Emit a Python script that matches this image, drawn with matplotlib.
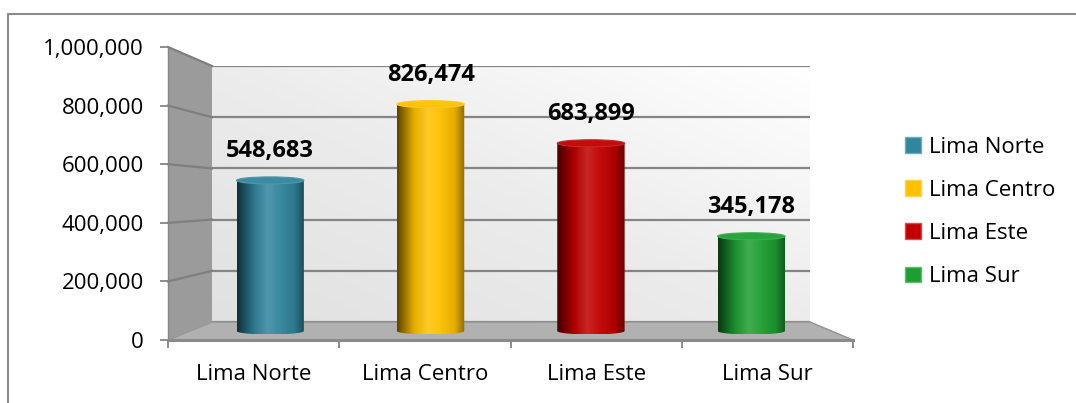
import matplotlib
matplotlib.use('Agg')

from matplotlib import pyplot as plt
from matplotlib.colors import LinearSegmentedColormap, to_rgb
from matplotlib.patches import Polygon, PathPatch, Ellipse, Patch
from matplotlib.lines import Line2D
from matplotlib.path import Path
from matplotlib.ticker import FuncFormatter
import numpy as np

plt.rcParams['font.family'] = 'Open Sans'

# Population by zone
zones = ["Lima Norte", "Lima Centro", "Lima Este", "Lima Sur"]
population = [548683, 826474, 683899, 345178]
zone_colors = ["#31859c", "#ffc000", "#c00000", "#1e9e32"]
y_ticks = [0, 200000, 400000, 600000, 800000, 1000000]

# Canvas size in pixels
W, H = 1076, 403
grey_line = "#858585"


def box(left, top, right, bottom):
    """ Pixel box (top-left origin) -> figure fraction rectangle """
    return [left / W, 1 - bottom / H, (right - left) / W, (bottom - top) / H]


def shade(c, f):
    """ f < 0 darkens towards black, f > 0 lightens towards white """
    c = np.array(to_rgb(c))
    if f < 0:
        return tuple(c * (1 + f))
    return tuple(c + (1 - c) * f)


fig = plt.figure(figsize=(W / 100, H / 100), dpi=100)
to_fig = fig.transFigure.inverted()

# Back wall, mid plane (cylinders) and front plane (axis ticks)
ax_back = fig.add_axes(box(212, 66, 810, 322), zorder=0)
ax_mid = fig.add_axes(box(190, 56.5, 831.5, 331), zorder=2)
ax_front = fig.add_axes(box(168, 47, 853, 340), zorder=3)

# Back wall: soft diagonal gradient plus gridlines
xx, yy = np.meshgrid(np.linspace(0, 1, 64), np.linspace(0, 1, 64))
wall_cmap = LinearSegmentedColormap.from_list("wall", ["#e1e1e1", "#ececec", "#ffffff"])
ax_back.imshow((xx + yy) / 2, extent=(0, 1, 0, 1), origin='lower', cmap=wall_cmap,
               aspect='auto', transform=ax_back.transAxes, zorder=-1)
ax_back.set_xlim(0, 1)
ax_back.set_ylim(0, max(y_ticks))
ax_back.set_yticks(y_ticks)
ax_back.set_xticks([])
ax_back.grid(axis='y', color=grey_line, linewidth=1.6)
ax_back.tick_params(length=0, labelleft=False)
for s in ax_back.spines.values():
    s.set_visible(False)

# Front plane axis
ax_front.set_xlim(0, len(zones))
ax_front.set_ylim(0, max(y_ticks))
ax_front.patch.set_visible(False)
for s in ['top', 'right']:
    ax_front.spines[s].set_visible(False)
ax_front.spines['left'].set_color(grey_line)
ax_front.spines['left'].set_linewidth(1.0)
ax_front.spines['bottom'].set_color("#8a8a8a")
ax_front.spines['bottom'].set_linewidth(2.2)
ax_front.set_yticks(y_ticks)
ax_front.yaxis.set_major_formatter(FuncFormatter(lambda v, _: "{:,.0f}".format(v)))
ax_front.set_xticks(np.arange(len(zones) + 1))
ax_front.set_xticklabels([])
ax_front.set_xticks(np.arange(len(zones)) + 0.5, minor=True)
ax_front.set_xticklabels(zones, minor=True)
ax_front.tick_params(axis='y', direction='out', length=5.5, width=1.3, color=grey_line,
                     pad=12, labelsize=16)
ax_front.tick_params(axis='x', which='major', direction='out', length=6, width=1.3,
                     color=grey_line)
ax_front.tick_params(axis='x', which='minor', length=0, pad=17, labelsize=16)


def fpt(ax, xy, axes_coords=True):
    t = ax.transAxes if axes_coords else ax.transData
    return to_fig.transform(t.transform(xy))


# Floor and left side wall
floor = [fpt(ax_front, (0, 0)), fpt(ax_front, (1, 0)), fpt(ax_back, (1, 0)), fpt(ax_back, (0, 0))]
fig.add_artist(Polygon(floor, closed=True, transform=fig.transFigure, facecolor="#b1b1b1",
                       edgecolor="#929292", linewidth=1.0, zorder=1))
side = [fpt(ax_front, (0, 0)), fpt(ax_front, (0, 1)), fpt(ax_back, (0, 1)), fpt(ax_back, (0, 0))]
fig.add_artist(Polygon(side, closed=True, transform=fig.transFigure, facecolor="#9b9b9b",
                       edgecolor="none", zorder=1))
for v in y_ticks[1:]:
    p0 = fpt(ax_front, (0, v), axes_coords=False)
    p1 = fpt(ax_back, (0, v), axes_coords=False)
    fig.add_artist(Line2D([p0[0], p1[0]], [p0[1], p1[1]], transform=fig.transFigure,
                          color="#7f7f7f", linewidth=1.6, zorder=1.5))

# Cylinders
ax_mid.patch.set_visible(False)
ax_mid.axis('off')
bar_w = 0.42
cap = 3.5 / (ax_mid.get_position().height * H) * max(y_ticks)  # ellipse half height
theta = np.linspace(np.pi, 2 * np.pi, 40)

for i, (val, col) in enumerate(zip(population, zone_colors)):
    cx = i + 0.5
    x0, x1 = cx - bar_w / 2, cx + bar_w / 2
    arc = np.column_stack([cx + bar_w / 2 * np.cos(theta), cap * np.sin(theta)])
    verts = np.vstack([[x0, val], arc, [x1, val], [x0, val]])
    outline = PathPatch(Path(verts, closed=True), transform=ax_mid.transData)

    cmap = LinearSegmentedColormap.from_list(
        "cyl", [(0.0, shade(col, -0.65)), (0.25, shade(col, -0.1)), (0.45, shade(col, 0.15)),
                (0.62, shade(col, 0.05)), (0.85, shade(col, -0.1)), (1.0, shade(col, -0.45))])
    im = ax_mid.imshow(np.linspace(0, 1, 256)[None, :], extent=(x0, x1, -cap, val), cmap=cmap,
                       aspect='auto', clip_path=outline, interpolation='bilinear')
    im.set_clip_box(fig.bbox)
    ax_mid.add_patch(Ellipse((cx, val), bar_w, 2 * cap, facecolor=shade(col, 0.05),
                             edgecolor=shade(col, 0.15), linewidth=0.8, zorder=3))
    ax_mid.annotate("{:,}".format(val), (cx, val), xytext=(0, 21), textcoords='offset points',
                    ha='center', va='center', fontsize=17, fontweight='bold')

ax_mid.set_xlim(0, len(zones))
ax_mid.set_ylim(0, max(y_ticks))

# Legend
handles = [Patch(facecolor=c, edgecolor=shade(c, 0.3), label=z) for z, c in zip(zones, zone_colors)]
fig.legend(handles=handles, loc='center left', bbox_to_anchor=(905 / W, 1 - 212 / H),
           frameon=False, fontsize=16, handlelength=0.72, handleheight=0.72,
           handletextpad=0.35, labelspacing=1.0, borderpad=0, borderaxespad=0)

# Chart border
fig.add_artist(Line2D([8 / W, 1], [1 - 14 / H, 1 - 14 / H], transform=fig.transFigure,
                      color="#8c8c8c", linewidth=1.5))
fig.add_artist(Line2D([8 / W, 8 / W], [1 - 14 / H, 0], transform=fig.transFigure,
                      color="#8c8c8c", linewidth=1.5))

plt.savefig("out.png", dpi=100)
